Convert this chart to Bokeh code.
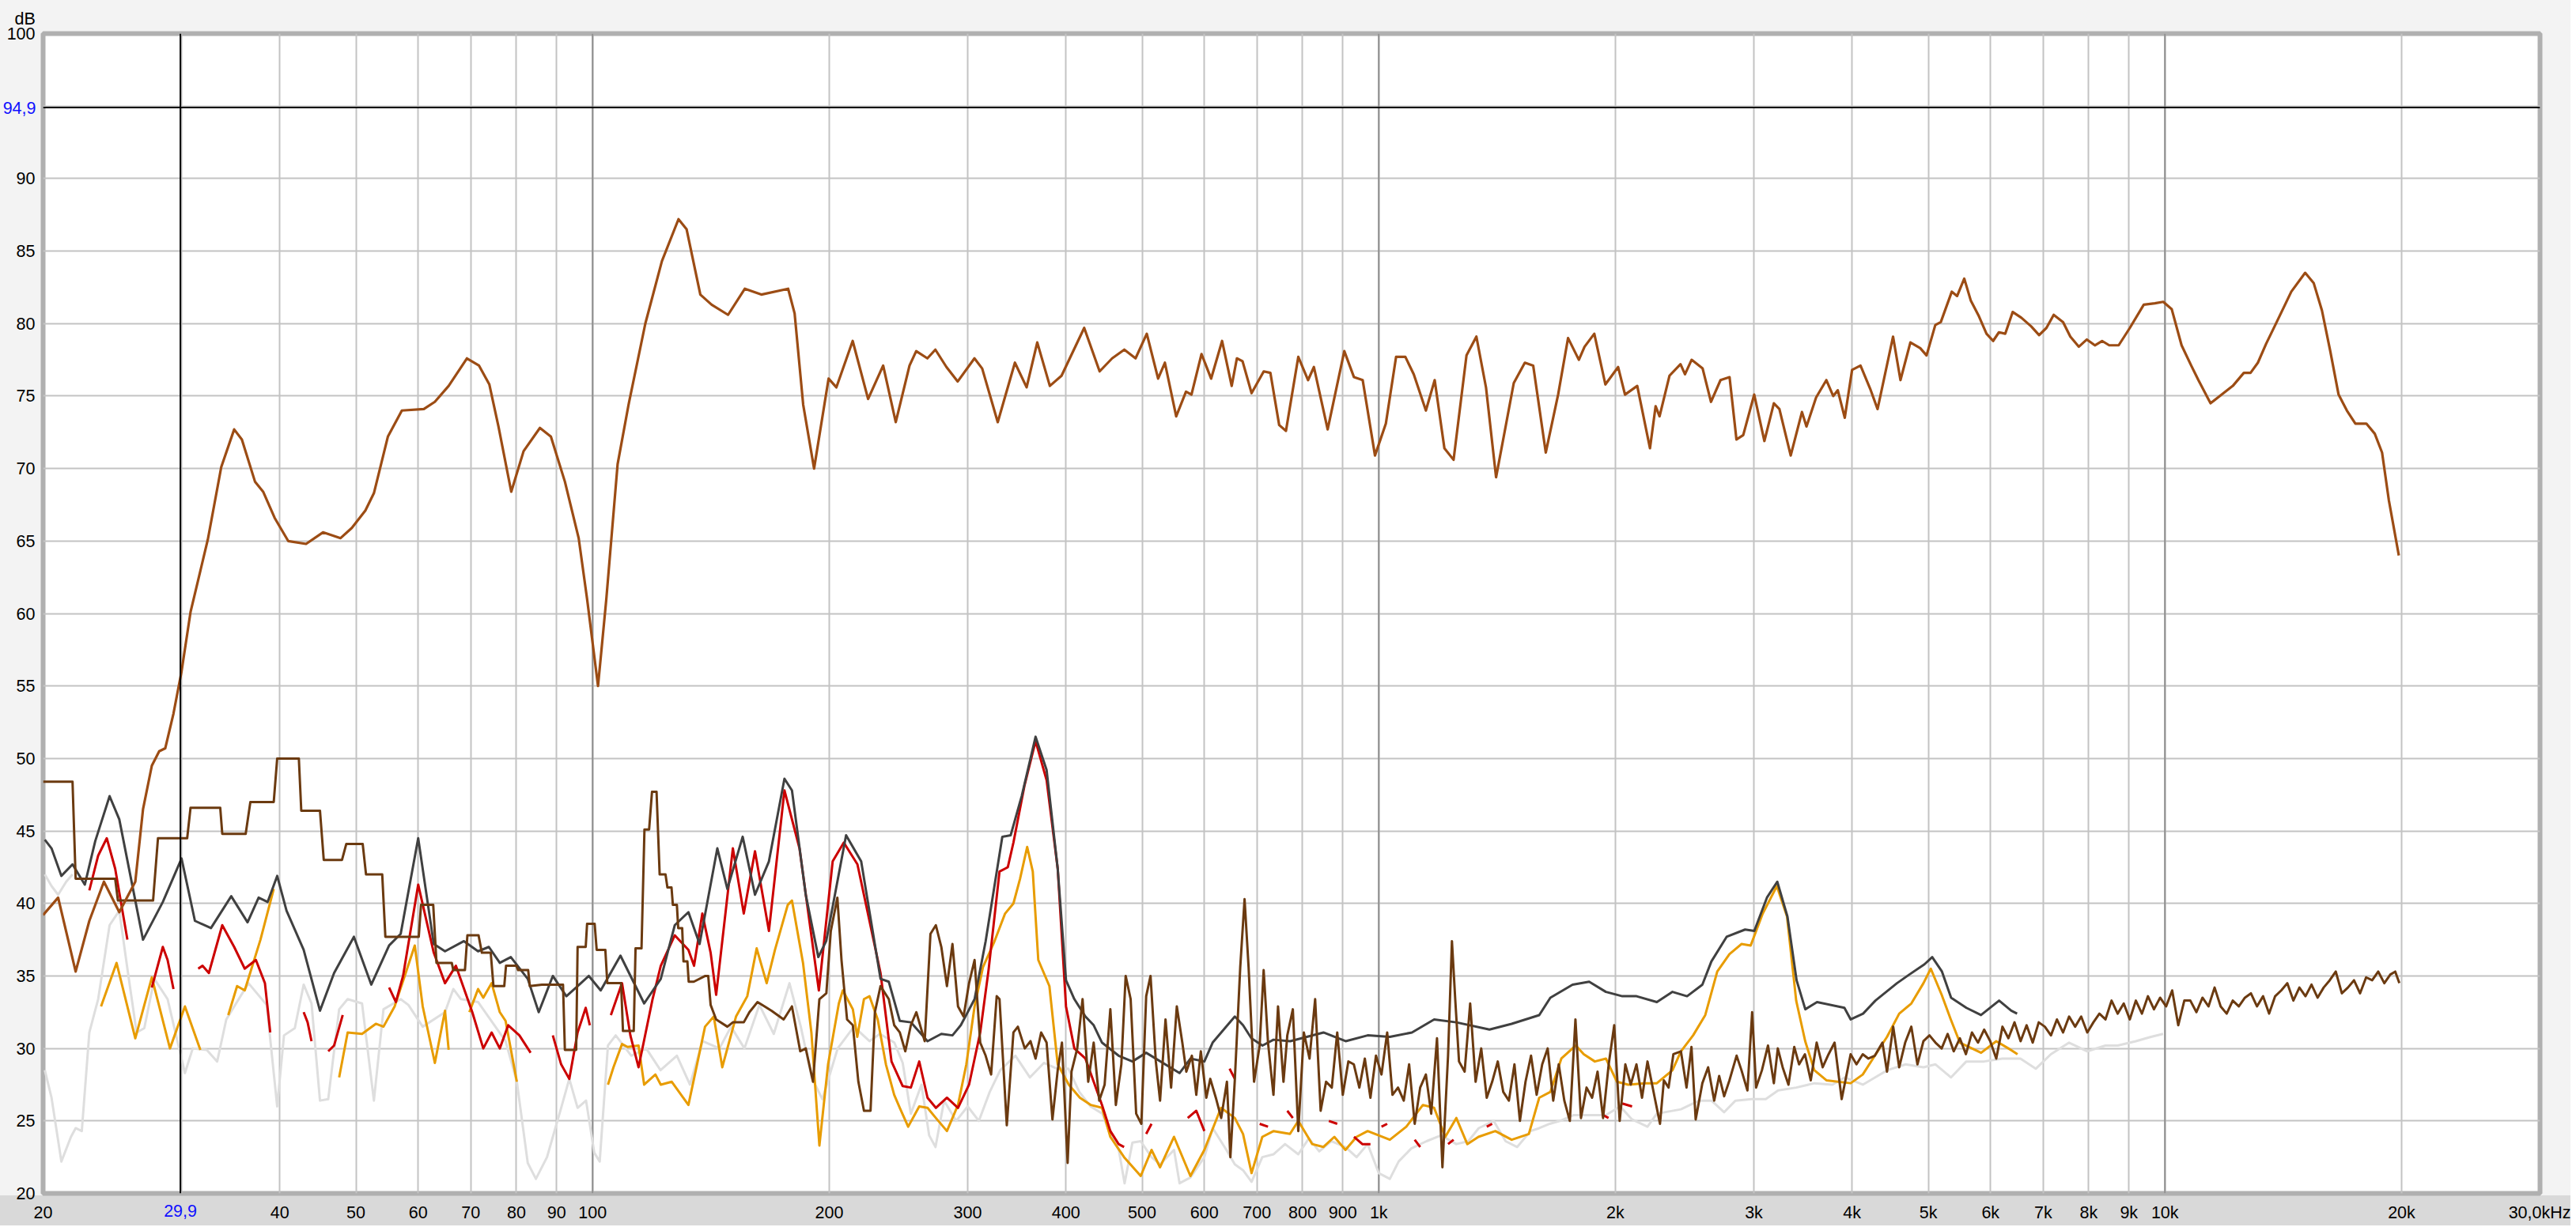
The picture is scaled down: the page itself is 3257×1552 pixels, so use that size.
import numpy as np
from bokeh.plotting import figure
from bokeh.models import (FixedTicker, CustomJSTickFormatter, Span, Range1d, Title,
                          LinearAxis, LogAxis)
from bokeh.embed import file_html
from bokeh.resources import INLINE

# ---------------- axis data ----------------
CURSOR_FREQ = 29.9
CURSOR_DB = 94.9
CURSOR_FREQ_TEXT = "29,9"
CURSOR_DB_TEXT = "94,9"
X_GRID = [20, 30, 40, 50, 60, 70, 80, 90, 100, 200, 300, 400, 500, 600, 700, 800, 900,
          1000, 2000, 3000, 4000, 5000, 6000, 7000, 8000, 9000, 10000, 20000, 30000]
X_TICKS = [20, 40, 50, 60, 70, 80, 90, 100, 200, 300, 400, 500, 600, 700, 800, 900,
           1000, 2000, 3000, 4000, 5000, 6000, 7000, 8000, 9000, 10000, 20000, 30000]
X_TICK_LABELS = ["20", "40", "50", "60", "70", "80", "90", "100", "200", "300", "400",
                 "500", "600", "700", "800", "900", "1k", "2k", "3k", "4k", "5k", "6k", "7k", "8k", "9k",
                 "10k", "20k", "30,0kHz"]
X_MAJOR_LINES = [100, 1000, 10000]
Y_GRID = [20, 25, 30, 35, 40, 45, 50, 55, 60, 65, 70, 75, 80, 85, 90, 95, 100]
Y_TICKS = [20, 25, 30, 35, 40, 45, 50, 55, 60, 65, 70, 75, 80, 85, 90, 100]
Y_TICK_LABELS = ["20", "25", "30", "35", "40", "45", "50", "55", "60", "65", "70", "75", "80",
                 "85", "90", "100"]
Y_UNIT = "dB"

# ---------------- series (Hz, dB); None = gap ----------------
MAIN = [(20, 39.2), (20.9, 40.4), (22.0, 35.3), (22.9, 38.8), (23.9, 41.5), (25.0, 39.4), (26.2, 41.5),
        (26.8, 46.5), (27.5, 49.5), (28.1, 50.5), (28.6, 50.7), (29.3, 53.1), (30.0, 56.0), (30.8, 60.1),
        (32.4, 65.1), (33.7, 70.1), (35.0, 72.7), (35.8, 72.0), (37.2, 69.1), (38.1, 68.4), (39.4, 66.6),
        (41.0, 65.0), (43.2, 64.8), (45.4, 65.6), (47.8, 65.2), (49.4, 65.9), (51.4, 67.1), (52.7, 68.3),
        (54.9, 72.2), (57.2, 74.0), (61.0, 74.1), (63.0, 74.6), (65.6, 75.7), (69.2, 77.6), (71.7, 77.1),
        (73.9, 75.8), (75.9, 72.9), (78.8, 68.4), (81.7, 71.2), (85.7, 72.8), (88.5, 72.2), (92.2, 69.1),
        (96.0, 65.2), (98.4, 61.0), (101.6, 55.0), (104.1, 61.0), (107.6, 70.3), (111.1, 74.4),
        (116.7, 80.0), (122.5, 84.3), (128.6, 87.2), (131.7, 86.5), (137.1, 82.0), (141.7, 81.3),
        (148.7, 80.6), (156.2, 82.4), (163.9, 82.0), (177.3, 82.4), (180.7, 80.7), (185.3, 74.4),
        (191.3, 70.0), (199.6, 76.2), (204.2, 75.6), (214.2, 78.8), (224.1, 74.8), (234.2, 77.1),
        (243.0, 73.2), (253.0, 77.1), (258, 78.1), (266.6, 77.6), (272.9, 78.2), (281.9, 77.0),
        (291.3, 76.0), (306, 77.6), (313, 76.9), (327.6, 73.2), (344.5, 77.3), (356.5, 75.6),
        (367.8, 78.7), (381.6, 75.7), (394.9, 76.4), (422, 79.7), (441.5, 76.7), (458, 77.6),
        (474.6, 78.2), (490.5, 77.6), (506.9, 79.3), (524, 76.2), (534.5, 77.3), (552.5, 73.6),
        (568.6, 75.3), (577.8, 75.1), (595, 77.9), (612, 76.2), (632, 78.8), (650, 75.7), (660, 77.6),
        (671, 77.4), (689, 75.2), (714, 76.7), (728, 76.6), (747, 73.0), (762, 72.6), (790, 77.7),
        (813, 76.1), (827, 77.0), (861, 72.7), (904, 78.1), (930, 76.3), (954, 76.1), (989, 70.9),
        (1021, 73.1), (1052, 77.7), (1081, 77.7), (1108, 76.5), (1148, 74.0), (1178, 76.1),
        (1212, 71.4), (1245, 70.6), (1293, 77.8), (1331, 79.1), (1369, 75.6), (1410, 69.4),
        (1450, 72.9), (1485, 75.9), (1534, 77.3), (1572, 77.1), (1631, 71.1), (1691, 75.1),
        (1741, 79.0), (1797, 77.5), (1827, 78.4), (1880, 79.3), (1942, 75.8), (2016, 77.0),
        (2057, 75.1), (2132, 75.7), (2213, 71.4), (2250, 74.3), (2276, 73.6), (2343, 76.4),
        (2420, 77.2), (2452, 76.5), (2500, 77.5), (2582, 76.9), (2646, 74.6), (2721, 76.1),
        (2794, 76.3), (2851, 72.0), (2908, 72.3), (3003, 75.1), (3094, 71.9), (3181, 74.5),
        (3233, 74.1), (3342, 70.9), (3454, 73.9), (3500, 72.9), (3600, 74.9), (3710, 76.1),
        (3785, 75.0), (3836, 75.4), (3915, 73.5), (4000, 76.8), (4100, 77.1), (4218, 75.5),
        (4310, 74.1), (4510, 79.1), (4609, 76.1), (4745, 78.7), (4884, 78.3), (4975, 77.8),
        (5104, 79.9), (5187, 80.1), (5357, 82.2), (5441, 81.9), (5556, 83.1), (5662, 81.6),
        (5800, 80.5), (5930, 79.3), (6046, 78.8), (6150, 79.4), (6265, 79.3), (6403, 80.8),
        (6567, 80.4), (6760, 79.8), (6918, 79.2), (7068, 79.7), (7220, 80.6), (7421, 80.1),
        (7580, 79.1), (7770, 78.4), (7956, 78.9), (8145, 78.5), (8319, 78.8), (8495, 78.5),
        (8733, 78.5), (9024, 79.7), (9399, 81.3), (9711, 81.4), (9951, 81.5), (10200, 81.0),
        (10500, 78.5), (10800, 77.1), (11030, 76.1), (11430, 74.5), (11810, 75.1), (12200, 75.7),
        (12600, 76.6), (12850, 76.6), (13130, 77.3), (13450, 78.6), (13900, 80.2), (14480, 82.2),
        (15080, 83.5), (15460, 82.8), (15840, 80.9), (16230, 78.1), (16630, 75.1), (17040, 74.0),
        (17470, 73.1), (18040, 73.1), (18490, 72.4), (18890, 71.1), (19270, 67.8), (19840, 64.0)]

DGRAY = [(20.1, 44.4), (20.5, 43.8), (21.1, 41.9), (21.8, 42.7), (22.6, 41.3), (23.3, 44.3), (24.3, 47.4),
         (25.0, 45.8), (26.8, 37.5), (28.4, 40.1), (30.0, 43.1), (31.2, 38.8), (32.7, 38.3), (34.7, 40.5),
         (36.4, 38.7), (37.6, 40.4), (38.6, 40.1), (39.7, 41.9), (40.8, 39.5), (42.9, 36.8), (45.0, 32.6),
         (46.9, 35.2), (49.7, 37.7), (52.3, 34.4), (55.1, 37.1), (57.0, 37.9), (60.0, 44.5), (62.8, 37.2),
         (64.9, 36.7), (68.6, 37.4), (71.5, 36.7), (73.8, 37.0), (76.2, 35.9), (78.7, 36.3), (82.7, 34.8),
         (85.4, 32.5), (89.0, 35.0), (92.6, 33.6), (95.7, 34.3), (98.9, 35.0), (102.4, 34.0),
         (108.5, 36.4), (116.3, 33.1), (122.1, 34.8), (127.2, 38.5), (132.4, 39.4), (136.8, 37.2),
         (144.1, 43.8), (148.4, 41.0), (155.2, 44.6), (160.9, 40.6), (167.6, 42.9), (175.4, 48.6),
         (179.3, 47.8), (186.7, 40.6), (193.7, 36.3), (198.2, 37.4), (210.1, 44.7), (219.6, 42.9),
         (232.4, 34.8), (238.1, 34.6), (245.9, 31.9), (254, 31.8), (266.7, 30.5), (277.7, 31.0),
         (286.9, 30.9), (294, 31.6), (306.1, 33.4), (316.2, 37.4), (332, 44.6), (340.2, 44.7),
         (351.4, 47.4), (366, 51.5), (378, 49.2), (390.5, 42.4), (400.1, 34.7), (410, 33.4),
         (423.5, 32.2), (433.9, 31.6), (444.6, 30.4), (466.7, 29.5), (486, 29.1), (506, 29.7),
         (557.9, 28.3), (576.2, 29.3), (600, 29.1), (614.7, 30.4), (656, 32.2), (672, 31.6),
         (688.6, 30.7), (711.3, 30.2), (734.6, 30.6), (771.5, 30.5), (850.5, 31.1), (907.5, 30.5),
         (968, 30.9), (1033, 30.8), (1102, 31.1), (1176, 32.0), (1255, 31.8), (1383, 31.3),
         (1476, 31.7), (1600, 32.3), (1653, 33.5), (1764, 34.4), (1852, 34.6), (1945, 33.9),
         (2041, 33.6), (2128, 33.6), (2258, 33.2), (2364, 33.9), (2467, 33.6), (2580, 34.4),
         (2649, 36.0), (2770, 37.7), (2924, 38.2), (3004, 38.1), (3117, 40.4), (3213, 41.5),
         (3310, 39.1), (3400, 34.7), (3488, 32.7), (3610, 33.2), (3911, 32.8), (3984, 32.0),
         (4131, 32.4), (4283, 33.3), (4562, 34.5), (4731, 35.1), (4944, 35.8), (5058, 36.3),
         (5205, 35.3), (5346, 33.5), (5590, 32.8), (5835, 32.3), (6153, 33.3), (6376, 32.6),
         (6486, 32.4)]

RED = [(22.9, 40.9), (23.5, 43.3), (24.1, 44.5), (24.7, 42.4), (25.6, 37.5), (26.0, None),
       (27.5, 34.2), (28.4, 37.0), (28.8, 36.1), (29.3, 34.1), (30.0, None),
       (31.5, 35.5), (31.9, 35.7), (32.5, 35.2), (33.8, 38.5), (35.0, 37.0), (36.1, 35.5), (37.3, 36.1),
       (38.3, 34.5), (38.9, 31.1), (40.0, None),
       (42.9, 32.5), (43.4, 31.8), (43.9, 30.5), (45.0, None),
       (46.1, 29.8), (46.9, 30.2), (48.1, 32.3), (50.0, None),
       (55.1, 34.2), (56.2, 33.2), (57.4, 35.0), (60.0, 41.3), (62.8, 36.6), (64.9, 34.5), (67.0, 35.7),
       (70.3, 32.5), (72.6, 30.0), (74.4, 31.1), (76.2, 30.0), (78.1, 31.6), (80.7, 30.9), (83.4, 29.7),
       (86.0, None),
       (89.0, 30.9), (91.2, 28.9), (93.4, 27.9), (95.7, 31.1), (98.0, 32.8), (99.2, 31.6), (102.0, None),
       (105.5, 32.3), (109, 34.5), (111.7, 30.9), (114.4, 28.7), (119.2, 33.4), (122.1, 35.7),
       (127.2, 37.8), (132.4, 36.8), (134.6, 35.7), (137.9, 39.3), (141.3, 36.6), (143.6, 33.7),
       (150.8, 43.8), (155.7, 39.3), (160.9, 43.6), (167.6, 38.1), (175.4, 47.8), (183.3, 43.8),
       (194.0, 34.0), (202, 42.9), (208.7, 44.2), (217.2, 42.7), (225.4, 38.6), (232.4, 35.2),
       (240, 29.1), (248, 27.4), (254, 27.3), (260.3, 29.1), (266.7, 26.6), (273.3, 25.9),
       (282.3, 26.6), (291.6, 25.9), (301.2, 27.5), (311.2, 31.1), (318.9, 35.4), (329.3, 42.2),
       (337.4, 42.5), (343, 44.2), (354.2, 48.1), (366, 51.2), (378, 48.5), (390.5, 42.4),
       (400.1, 32.9), (410, 30.0), (423.5, 29.3), (433.9, 27.7), (444.6, 26.1), (455.6, 24.3),
       (466.7, 23.4), (474.3, 23.2), (490, None),
       (506, 24.1), (514, 24.8), (540, None), (571.5, 25.2), (586, 25.7), (600, 24.3), (620, None),
       (646, 28.6), (656, 27.9), (680, None), (705.5, 24.8), (723, 24.6), (740, None),
       (765, 25.7), (777.5, 25.2), (820, None), (864, 25.0), (885.5, 24.8), (900, None),
       (930, 23.9), (953, 23.4), (976, 23.4), (990, None), (1008, 24.6), (1025, 24.8), (1060, None),
       (1111, 23.7), (1129, 23.2), (1180, None), (1225, 23.4), (1245, 23.7), (1300, None),
       (1372, 24.6), (1394, 24.8), (1600, None), (1930, 25.4), (1960, 25.2), (2000, None),
       (2040, 26.2), (2100, 26.0)]

ORANGE = [(23.7, 32.9), (24.8, 35.9), (26.2, 30.7), (27.5, 34.9), (29.0, 30.0), (30.3, 32.9), (31.7, 29.9),
          (33.0, None),
          (34.4, 32.3), (35.3, 34.3), (36.1, 34.0), (37.8, 37.5), (39.3, 41.0), (42.0, None),
          (47.6, 28.0), (48.8, 31.1), (50.9, 31.0), (53.0, 31.7), (54.2, 31.5), (56.0, 32.9), (59.4, 37.1),
          (60.8, 32.9), (63.0, 29.0), (64.9, 32.6), (65.6, 29.9), (67.0, None),
          (69.7, 32.5), (71.5, 34.1), (72.6, 33.5), (74.4, 34.5), (76.2, 32.5), (77.5, 31.9), (80.1, 27.7),
          (90.0, None),
          (104.6, 27.5), (106.3, 28.7), (109, 30.3), (110.8, 30.1), (114.4, 30.2), (116.3, 27.5),
          (120.2, 28.2), (122.1, 27.5), (126.1, 27.7), (132.4, 26.1), (139, 31.5), (142.6, 32.2),
          (146.2, 28.7), (152.2, 32.2), (157.3, 33.6), (161.7, 36.9), (166.5, 34.5), (170.6, 36.8),
          (177.1, 39.9), (179.3, 40.2), (185.2, 35.9), (189.8, 31.1), (194.3, 23.3), (199.3, 28.9),
          (205.7, 33.1), (208.1, 34.0), (214.3, 32.7), (217.1, 30.8), (221.4, 33.4), (225, 33.6),
          (230.5, 32.0), (236.1, 28.9), (241.9, 26.8), (245.9, 25.9), (252, 24.6), (260.3, 26.0),
          (266.7, 25.9), (273.3, 25.2), (282.3, 24.3), (291.6, 26.1), (298.8, 28.9), (306.1, 32.9),
          (313.7, 35.6), (324, 37.3), (334.7, 39.3), (343, 40.0), (349.7, 41.7), (357.1, 43.9),
          (363, 42.2), (368.9, 36.1), (381.1, 34.3), (390.5, 28.9), (403.4, 27.5), (416.7, 26.6),
          (430.4, 26.1), (444.6, 25.9), (455.6, 23.9), (474.3, 22.5), (498, 21.2), (514, 23.0),
          (527, 21.8), (549, 23.9), (576, 21.2), (600, 23.0), (630, 25.9), (656, 25.2), (672, 24.1),
          (689, 21.4), (711, 23.9), (735, 24.3), (771, 24.1), (790, 25.0), (823, 23.4), (850, 23.2),
          (878, 23.9), (907, 23.0), (937, 23.9), (968, 24.3), (1033, 23.7), (1084, 24.6), (1138, 26.1),
          (1176, 25.9), (1215, 23.9), (1255, 25.2), (1296, 23.4), (1339, 23.9), (1407, 24.3),
          (1476, 23.7), (1552, 24.1), (1600, 26.6), (1653, 27.0), (1707, 29.3), (1781, 30.2),
          (1823, 29.6), (1883, 29.1), (1945, 29.3), (2009, 27.7), (2076, 27.5), (2178, 27.6),
          (2258, 27.6), (2364, 28.5), (2423, 29.8), (2511, 30.9), (2602, 32.3), (2695, 35.3),
          (2793, 36.5), (2893, 37.2), (2972, 37.1), (3079, 39.3), (3209, 41.2), (3306, 39.1),
          (3396, 33.3), (3487, 30.5), (3581, 28.5), (3710, 27.8), (3983, 27.6), (4127, 28.2),
          (4276, 29.5), (4431, 30.8), (4592, 32.4), (4758, 33.1), (4930, 34.5), (5037, 35.5),
          (5200, 33.7), (5341, 32.0), (5485, 30.4), (5683, 30.0), (5837, 29.7), (6102, 30.5),
          (6323, 30.0), (6494, 29.6)]

LGRAY_A = [(20.1, 42.0), (20.5, 41.2), (20.9, 40.6), (21.4, 41.5), (21.8, 42.0)]

LGRAY = [(20.1, 28.5), (20.5, 26.6), (21.1, 22.2), (21.7, 23.9), (22.0, 24.5), (22.4, 24.3), (22.9, 31.1),
         (23.5, 33.4), (24.3, 38.5), (25.0, 39.5), (25.6, 35.5), (26.3, 31.1), (26.9, 31.4), (27.7, 34.8),
         (28.8, 33.4), (30.3, 28.3), (31.0, 30.0), (32.3, 29.9), (33.3, 29.1), (34.2, 32.0),
         (36.5, 34.5), (38.5, 33.0), (39.7, 26.0), (40.5, 30.9), (41.8, 31.4), (42.9, 34.4),
         (43.9, 33.1), (45.0, 26.4), (46.1, 26.5), (47.6, 32.7), (48.8, 33.4), (50.9, 33.1),
         (52.7, 26.4), (54.2, 32.7), (57.0, 33.4), (58.3, 33.0), (60.8, 31.5), (64.9, 32.5),
         (66.5, 34.1), (68.0, 33.4), (71.5, 33.2), (77.5, 30.5), (80.1, 27.7), (82.7, 22.1),
         (84.7, 21.0), (87.5, 22.5), (89.0, 23.9), (91.2, 25.9), (93.4, 27.9), (95.7, 25.9),
         (98.1, 26.4), (100.5, 22.8), (102.1, 22.2), (104.6, 30.2), (107, 30.9), (112, 29.5),
         (117, 30.0), (122, 28.5), (128, 29.5), (133, 27.5), (138, 30.5), (145, 30.0), (150, 31.5),
         (156, 30.0), (163, 33.0), (170, 31.0), (178, 34.5), (184, 31.5), (190, 28.0), (196, 26.5),
         (205, 30.0), (215, 31.5), (225, 30.5), (232, 31.0), (242, 30.4), (248, 29.0), (254, 25.5),
         (262, 27.5), (268, 24.0), (273, 23.2), (280, 26.4), (290, 25.0), (300, 26.0), (310, 25.0),
         (320, 27.0), (330, 28.5), (345, 29.5), (360, 28.0), (375, 29.0), (390, 28.6), (403, 28.6),
         (416, 27.0), (430, 26.0), (445, 25.5), (456, 24.0), (467, 23.0), (475, 20.7), (486, 23.5),
         (498, 23.6), (514, 22.5), (527, 22.0), (549, 23.0), (558, 20.7), (576, 21.1), (600, 22.5),
         (615, 24.5), (640, 23.0), (656, 22.0), (672, 21.6), (689, 20.8), (711, 22.5), (735, 22.7),
         (760, 23.4), (790, 22.7), (815, 23.8), (840, 22.9), (870, 23.6), (907, 23.2), (937, 22.5),
         (968, 23.4), (1000, 21.4), (1033, 21.0), (1060, 22.2), (1100, 23.1), (1150, 23.6),
         (1200, 24.0), (1255, 23.4), (1300, 23.6), (1340, 24.5), (1400, 25.0), (1450, 23.6),
         (1500, 23.2), (1560, 24.3), (1600, 24.5), (1650, 24.8), (1700, 25.0), (1770, 25.4),
         (1850, 25.4), (1945, 25.4), (2028, 26.0), (2100, 25.1), (2197, 24.6), (2258, 25.5),
         (2423, 25.8), (2555, 26.4), (2650, 26.4), (2750, 25.6), (2843, 26.4), (2978, 26.5),
         (3106, 26.5), (3221, 27.1), (3397, 27.3), (3582, 27.6), (3776, 27.5), (3917, 28.0),
         (4128, 27.5), (4280, 28.0), (4436, 28.5), (4680, 28.9), (4930, 28.7), (5107, 28.9),
         (5345, 28.0), (5589, 29.1), (5889, 29.1), (6210, 29.3), (6550, 29.3), (6850, 28.6),
         (7160, 29.6), (7553, 30.4), (7966, 29.8), (8400, 30.2), (8707, 30.2), (9183, 30.5),
         (9600, 30.8), (9947, 31.0)]

DBROWN = [(20, 48.4), (21.8, 48.4), (22.0, 41.7), (24.7, 41.7), (24.9, 40.2), (27.6, 40.2), (28.0, 44.5),
          (30.5, 44.5), (30.8, 46.6), (33.6, 46.6), (33.8, 44.8), (36.2, 44.8), (36.7, 47.0), (39.3, 47.0),
          (39.7, 50.0), (42.3, 50.0), (42.6, 46.4), (45.0, 46.4), (45.5, 43.0), (48.0, 43.0), (48.6, 44.1),
          (51.0, 44.1), (51.5, 42.0), (54.0, 42.0), (54.5, 37.7), (60.1, 37.7), (60.5, 39.9), (62.7, 39.9),
          (63.3, 35.9), (66.2, 35.9), (66.5, 35.4), (68.8, 35.4), (69.3, 37.8), (71.6, 37.8), (72.3, 36.6),
          (74.2, 36.6), (74.8, 34.3), (77.2, 34.3), (77.6, 35.7), (80.0, 35.7), (80.4, 35.4), (82.8, 35.4),
          (83.2, 34.3), (86.2, 34.4), (91.7, 34.4), (92.2, 29.9), (95.3, 29.9), (95.7, 37.0), (98.0, 37.0),
          (98.4, 38.6), (100.6, 38.6), (101.2, 36.8), (103.8, 36.8), (104.4, 34.5), (108.7, 34.5),
          (109.3, 31.2), (112.8, 31.2), (113.4, 36.9), (115.4, 36.9), (116.4, 45.1), (118.0, 45.1),
          (119.0, 47.7), (120.6, 47.7), (121.7, 42.0), (123.8, 42.0), (124.5, 41.1), (126.0, 41.1),
          (126.5, 39.9), (128.0, 39.9), (128.5, 38.3), (130.0, 38.3), (130.5, 36.0), (132.0, 36.0),
          (132.5, 34.6), (134.5, 34.6), (139.1, 35.0), (140.3, 35.0), (141.3, 33.0), (143.6, 32.0),
          (148.4, 31.5), (150.8, 31.8), (155.7, 31.8), (158.3, 32.5), (162.1, 33.2), (168.9, 32.6),
          (175, 32.0), (179.3, 32.9), (183.7, 29.8), (186.7, 30.0), (190.7, 27.7), (194.3, 33.4),
          (198.3, 33.8), (200.9, 38.1), (204.8, 40.4), (207.3, 36.1), (210.7, 32.0), (214.3, 31.6),
          (217.8, 27.7), (221.4, 25.7), (225.7, 25.7), (228.6, 32.5), (232.4, 34.3), (238.1, 33.4),
          (241.9, 31.6), (245.9, 31.1), (249.9, 29.8), (254, 31.6), (258.1, 32.5), (264.5, 30.5),
          (269.0, 37.9), (273.3, 38.5), (277.7, 37.0), (282.3, 34.3), (286.9, 37.2), (291.6, 32.9),
          (296.4, 32.2), (301.2, 34.5), (306.1, 36.1), (311.2, 30.4), (316.2, 29.5), (321.3, 28.2),
          (326.6, 33.6), (329.3, 33.4), (336.4, 24.7), (343, 31.1), (347.5, 31.5), (354.6, 30.0),
          (360.6, 30.5), (366, 29.3), (372, 31.1), (378, 30.4), (384.5, 25.1), (390.5, 28.5),
          (395.4, 30.4), (402, 22.1), (406.6, 28.4), (413.5, 30.0), (420, 33.4), (427, 27.7),
          (433.9, 30.4), (441, 26.4), (448, 27.5), (455.6, 32.7), (463, 26.1), (470.5, 28.9),
          (476.5, 35.0), (483.5, 33.4), (491.4, 25.5), (498.9, 24.8), (506, 33.6), (512.5, 35.0),
          (520.5, 29.1), (527, 26.4), (535.5, 32.0), (544.3, 27.3), (553.5, 32.9), (562.5, 30.4),
          (569.1, 28.4), (578.5, 29.5), (586, 26.8), (593.8, 29.8), (603.5, 26.6), (610.5, 27.9),
          (620.5, 26.6), (630.3, 25.2), (641, 27.7), (647.5, 22.5), (655.8, 27.7), (666.5, 35.6),
          (675, 40.3), (683, 35.6), (694, 27.7), (705.5, 30.2), (713.8, 35.4), (723, 30.4),
          (734.6, 26.8), (744.5, 32.9), (756.5, 27.7), (765, 30.9), (777.5, 32.7), (790, 24.3),
          (803, 31.1), (816.5, 29.3), (830, 33.4), (843.5, 25.7), (857, 27.7), (871.5, 27.3),
          (885.5, 31.1), (900, 26.8), (914.8, 29.1), (929.6, 28.9), (944.7, 27.3), (960, 29.3),
          (975.9, 26.6), (991.9, 29.5), (1008, 28.2), (1025, 31.1), (1041, 26.8), (1058, 27.3),
          (1076, 26.4), (1093, 28.9), (1111, 24.8), (1129, 27.3), (1148, 28.2), (1166, 25.5),
          (1186, 30.7), (1205, 21.8), (1225, 29.5), (1239, 37.4), (1251, 33.4), (1265, 29.1),
          (1286, 28.4), (1307, 33.1), (1328, 27.7), (1350, 30.0), (1372, 26.6), (1394, 27.7),
          (1417, 29.1), (1440, 27.0), (1464, 26.4), (1488, 28.9), (1512, 25.0), (1537, 27.7),
          (1562, 29.5), (1588, 26.8), (1614, 28.9), (1640, 30.0), (1667, 26.4), (1694, 28.9),
          (1722, 26.4), (1750, 25.0), (1779, 32.0), (1808, 25.2), (1838, 27.3), (1868, 26.6),
          (1898, 28.4), (1929, 25.2), (1961, 28.9), (1993, 31.6), (2025, 25.0), (2059, 28.9),
          (2092, 27.5), (2127, 28.9), (2162, 26.6), (2197, 29.1), (2244, 26.6), (2279, 24.8),
          (2305, 27.8), (2337, 27.3), (2370, 29.6), (2423, 29.8), (2463, 27.3), (2499, 30.1),
          (2530, 25.1), (2580, 27.6), (2624, 28.7), (2671, 26.4), (2710, 28.1), (2750, 26.7),
          (2793, 27.8), (2852, 29.5), (2893, 28.5), (2944, 27.1), (2985, 32.5), (3020, 27.3),
          (3072, 28.5), (3127, 30.2), (3181, 27.6), (3218, 30.0), (3264, 28.7), (3320, 27.5),
          (3377, 30.1), (3425, 28.9), (3484, 29.6), (3544, 27.8), (3606, 30.4), (3670, 28.7),
          (3734, 29.6), (3800, 30.4), (3880, 26.5), (3983, 29.6), (4052, 28.9), (4127, 29.6),
          (4196, 29.3), (4276, 29.5), (4372, 30.4), (4431, 28.4), (4512, 31.5), (4592, 28.7),
          (4673, 30.4), (4758, 31.5), (4844, 28.9), (4930, 30.5), (5018, 30.9), (5107, 30.4),
          (5200, 30.0), (5292, 31.0), (5387, 29.8), (5485, 30.7), (5583, 29.6), (5683, 31.1),
          (5784, 30.4), (5889, 31.3), (5995, 30.5), (6102, 29.3), (6214, 31.5), (6323, 30.7),
          (6437, 31.8), (6553, 30.5), (6669, 31.6), (6789, 30.4), (6910, 31.8), (7035, 31.5),
          (7162, 30.9), (7288, 32.0), (7420, 31.1), (7553, 32.2), (7688, 31.5), (7825, 32.2),
          (7966, 31.1), (8110, 31.8), (8254, 32.4), (8402, 32.0), (8553, 33.3), (8707, 32.4),
          (8864, 33.1), (9022, 32.0), (9184, 33.3), (9349, 32.4), (9515, 33.6), (9685, 32.7),
          (9860, 33.5), (10035, 32.9), (10215, 34.0), (10398, 31.6), (10585, 33.3), (10773, 33.3),
          (10967, 32.5), (11163, 33.5), (11362, 32.9), (11566, 34.2), (11773, 32.9), (11983, 32.4),
          (12198, 33.3), (12416, 32.9), (12640, 33.5), (12864, 33.8), (13095, 32.9), (13330, 33.6),
          (13568, 32.4), (13810, 33.6), (14060, 34.0), (14310, 34.5), (14567, 33.3), (14827, 34.2),
          (15094, 33.6), (15362, 34.4), (15638, 33.5), (15919, 34.2), (16204, 34.7), (16494, 35.3),
          (16790, 33.8), (17091, 34.2), (17398, 34.7), (17709, 33.8), (18027, 34.9), (18350, 34.7),
          (18679, 35.3), (19014, 34.5), (19353, 35.1), (19632, 35.3), (19870, 34.5)]

SERIES = [  # drawing order, colour, width
    (LGRAY_A, "#dedede", 3),
    (LGRAY, "#dedede", 3),
    (ORANGE, "#e89c00", 3),
    (RED, "#cc0000", 3),
    (DGRAY, "#404040", 3),
    (DBROWN, "#6b3a10", 3),
    (MAIN, "#9c4c14", 3.2),
]

FONT = "Liberation Sans"
FONT_SIZE = "21.5px"
FMT_CODE = "const i = tvals.indexOf(tick); return i < 0 ? '' : tlabels[i];"


def unzip(pairs):
    f = np.array([q[0] for q in pairs], dtype=float)
    d = np.array([np.nan if q[1] is None else q[1] for q in pairs], dtype=float)
    return f, d


def style_axis(ax, color="#000000"):
    ax.axis_line_color = None
    ax.major_tick_line_color = None
    ax.minor_tick_line_color = None
    ax.major_tick_out = 0
    ax.major_tick_in = 0
    ax.minor_tick_out = 0
    ax.minor_tick_in = 0
    ax.major_label_text_font = FONT
    ax.major_label_text_font_size = FONT_SIZE
    ax.major_label_text_color = color


p = figure(width=3250, height=1550, x_axis_type="log",
           x_range=Range1d(20, 30000), y_range=Range1d(20, 100),
           output_backend="svg", toolbar_location=None,
           min_border_left=53, min_border_right=39, min_border_top=42, min_border_bottom=41)

p.background_fill_color = "white"
# window chrome: light surround, darker band under the plot for the frequency scale
p.border_fill_color = None
p.border_fill_alpha = 0
p.styles = {"background": "linear-gradient(180deg, #f3f3f3 0px, #f3f3f3 1512px, "
                          "#d9d9d9 1512px, #d9d9d9 100%)"}
p.outline_line_color = "#b0b0b0"
p.outline_line_width = 6

# grid
p.xaxis.ticker = FixedTicker(ticks=X_TICKS)
p.yaxis.ticker = FixedTicker(ticks=Y_TICKS)
p.xgrid.ticker = FixedTicker(ticks=X_GRID)
p.ygrid.ticker = FixedTicker(ticks=Y_GRID)
for g in (p.xgrid, p.ygrid):
    g.grid_line_color = "#c3c3c3"
    g.grid_line_width = 2
for xm in X_MAJOR_LINES:
    p.add_layout(Span(location=xm, dimension="height", line_color="#8e8e8e", line_width=2,
                      level="underlay"))

# main axes
p.xaxis.formatter = CustomJSTickFormatter(args=dict(tvals=X_TICKS, tlabels=X_TICK_LABELS), code=FMT_CODE)
p.yaxis.formatter = CustomJSTickFormatter(args=dict(tvals=Y_TICKS, tlabels=Y_TICK_LABELS), code=FMT_CODE)
for ax in (p.xaxis[0], p.yaxis[0]):
    style_axis(ax)
p.xaxis.major_label_standoff = 12
p.yaxis.major_label_standoff = 10

# cursor read-out axes (blue), overlapping the main axis label rows
cur_y = LinearAxis(ticker=FixedTicker(ticks=[CURSOR_DB]),
                   formatter=CustomJSTickFormatter(args=dict(tvals=[CURSOR_DB], tlabels=[CURSOR_DB_TEXT]),
                                                   code=FMT_CODE),
                   major_label_standoff=-40)
style_axis(cur_y, "#1010ff")
p.add_layout(cur_y, "left")
cur_x = LogAxis(ticker=FixedTicker(ticks=[CURSOR_FREQ]),
                formatter=CustomJSTickFormatter(args=dict(tvals=[CURSOR_FREQ], tlabels=[CURSOR_FREQ_TEXT]),
                                                code=FMT_CODE),
                major_label_standoff=-25)
style_axis(cur_x, "#1010ff")
p.add_layout(cur_x, "below")

# unit label above the y axis
p.add_layout(Title(text=Y_UNIT, align="left", offset=-36, standoff=14, text_font=FONT,
                   text_font_size=FONT_SIZE, text_font_style="normal", text_color="#000000"), "above")

# series
for pairs, color, width in SERIES:
    f, d = unzip(pairs)
    p.line(f, d, line_color=color, line_width=width, line_join="round")

# cursors
p.add_layout(Span(location=CURSOR_FREQ, dimension="height", line_color="black", line_width=2))
p.add_layout(Span(location=CURSOR_DB, dimension="width", line_color="black", line_width=2))

open("out.html", "w").write(file_html(p, INLINE))
